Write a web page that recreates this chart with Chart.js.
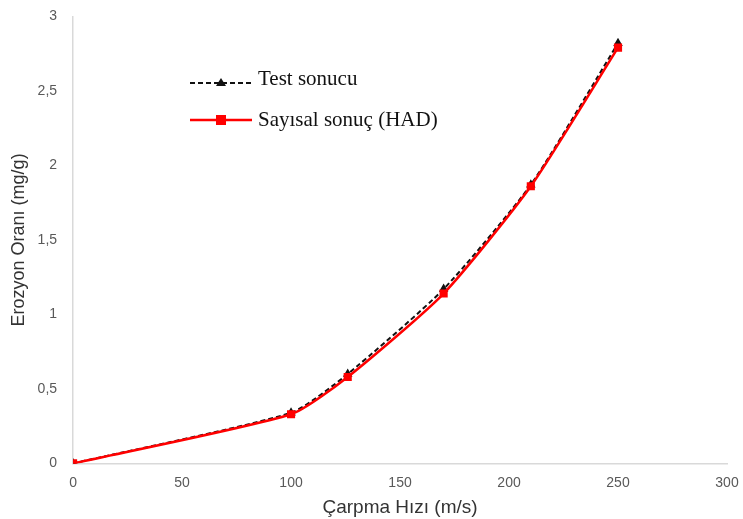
<!DOCTYPE html>
<html lang="tr">
<head>
    <meta charset="UTF-8">
    <title>Erozyon Oranı</title>
    <script src="https://cdn.jsdelivr.net/npm/chart.js"></script>
    <style>
        html, body { margin: 0; padding: 0; background: #fff; }
        #box { width: 743px; height: 519px; }
    </style>
</head>
<body>
    <div id="box"><canvas id="grafik"></canvas></div>

<script>
    // veriler
    const hizTest = [0, 100, 126, 170, 210, 250];
    const testSonucu = [0, 0.34, 0.60, 1.17, 1.87, 2.82];
    const hizHad = [0, 100, 126, 170, 210, 250];
    const hadSonucu = [0, 0.33, 0.58, 1.14, 1.86, 2.79];
    const etiketler = ['Test sonucu', 'Sayısal sonuç (HAD)'];

    function noktalar(xs, ys) {
        return xs.map((x, i) => ({ x: x, y: ys[i] }));
    }

    // grafiğin içindeki açıklama kutusu
    const icLegend = {
        id: 'icLegend',
        afterDraw(chart) {
            const ctx = chart.ctx;
            const x0 = 190, x1 = 252;
            const satirlar = [83, 120];
            ctx.save();
            ctx.font = '21px "Liberation Serif", "Times New Roman", serif';
            ctx.textBaseline = 'middle';
            ctx.fillStyle = '#111';
            // Test sonucu
            ctx.strokeStyle = '#111';
            ctx.lineWidth = 2;
            ctx.setLineDash([5, 3]);
            ctx.beginPath(); ctx.moveTo(x0, satirlar[0]); ctx.lineTo(x1, satirlar[0]); ctx.stroke();
            ctx.setLineDash([]);
            ctx.beginPath();
            ctx.moveTo(221, satirlar[0] - 5); ctx.lineTo(226, satirlar[0] + 3); ctx.lineTo(216, satirlar[0] + 3);
            ctx.closePath(); ctx.fill();
            ctx.fillText(etiketler[0], 258, satirlar[0] - 4);
            // HAD
            ctx.strokeStyle = '#ff0000';
            ctx.fillStyle = '#ff0000';
            ctx.lineWidth = 2.5;
            ctx.beginPath(); ctx.moveTo(x0, satirlar[1]); ctx.lineTo(x1, satirlar[1]); ctx.stroke();
            ctx.fillRect(216, satirlar[1] - 5, 10, 10);
            ctx.fillStyle = '#111';
            ctx.fillText(etiketler[1], 258, satirlar[1]);
            ctx.restore();
        }
    };

    const grafik = document.getElementById('grafik');
    new Chart(grafik, {
        type: 'line',
        data: {
            datasets: [{
                label: etiketler[1],
                data: noktalar(hizHad, hadSonucu),
                borderColor: '#ff0000',
                backgroundColor: '#ff0000',
                borderWidth: 2.5,
                pointStyle: 'rect',
                pointRadius: 4,
                tension: 0.2,
                fill: false,
                order: 0
            }, {
                label: etiketler[0],
                data: noktalar(hizTest, testSonucu),
                borderColor: '#111',
                backgroundColor: '#111',
                borderWidth: 2,
                borderDash: [5, 3],
                pointStyle: 'triangle',
                pointRadius: 3.5,
                tension: 0.2,
                fill: false,
                order: 1
            }]
        },
        options: {
            responsive: true,
            maintainAspectRatio: false,
            animation: false,
            layout: { padding: { top: 3, right: 16, left: 6, bottom: 0 } },
            plugins: {
                legend: { display: false },
                tooltip: { enabled: false }
            },
            scales: {
                x: {
                    type: 'linear',
                    min: 0,
                    max: 300,
                    ticks: {
                        stepSize: 50,
                        color: '#595959',
                        font: { family: 'Liberation Sans', size: 14 }
                    },
                    grid: { display: false },
                    border: { color: '#d9d9d9', width: 1.5 },
                    title: {
                        display: true,
                        text: 'Çarpma Hızı (m/s)',
                        color: '#333',
                        font: { family: 'Liberation Sans', size: 19 },
                        padding: { top: 2, bottom: 0 }
                    }
                },
                y: {
                    min: 0,
                    max: 3,
                    ticks: {
                        stepSize: 0.5,
                        color: '#595959',
                        font: { family: 'Liberation Sans', size: 14 },
                        callback: v => String(v).replace('.', ','),
                        padding: 8
                    },
                    grid: { display: false },
                    border: { color: '#d9d9d9', width: 1.5 },
                    title: {
                        display: true,
                        text: 'Erozyon Oranı (mg/g)',
                        color: '#333',
                        font: { family: 'Liberation Sans', size: 18 },
                        padding: { top: 2, bottom: 0 }
                    }
                }
            }
        },
        plugins: [icLegend]
    });
</script>
</body>
</html>
